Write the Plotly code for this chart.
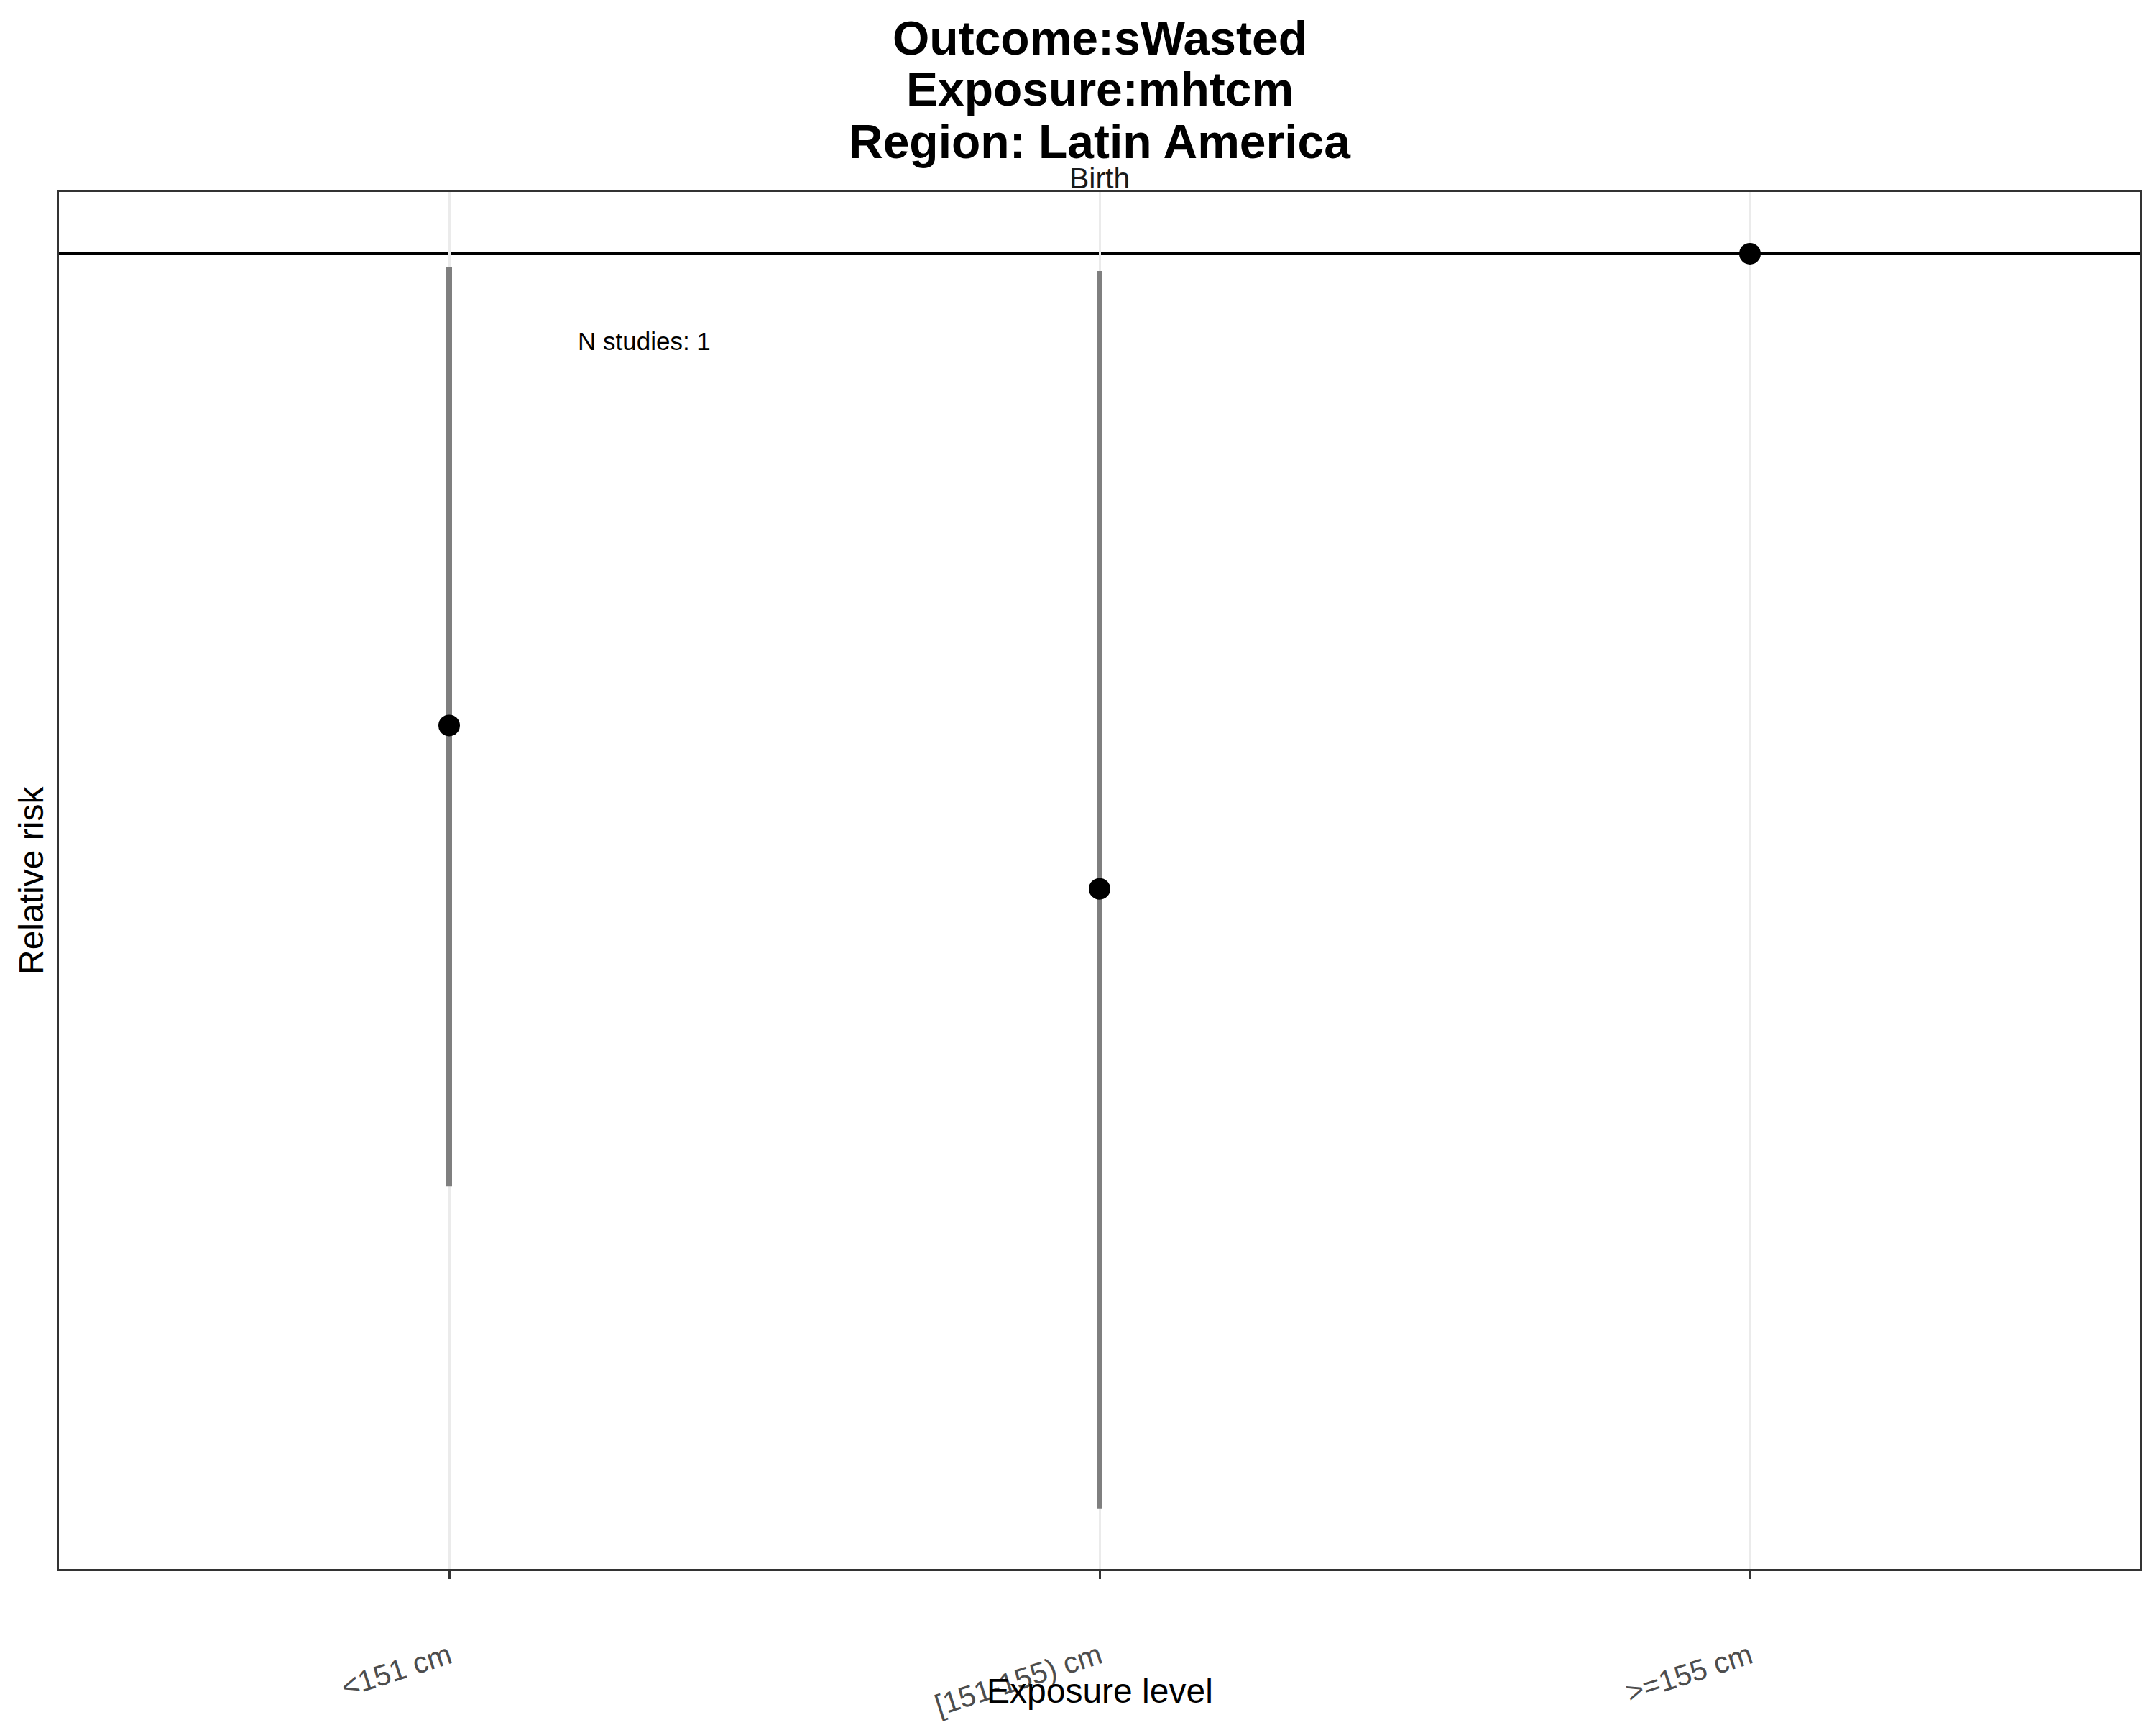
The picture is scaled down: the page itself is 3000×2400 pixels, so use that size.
import math
import plotly.graph_objects as go

# ---- data ----
categories = ["<151 cm", "[151-155) cm", ">=155 cm"]
rr_point = [0.96115, 0.94806, 1.0]
rr_lower = [0.92469, 0.9000, None]
rr_upper = [0.99891, 0.99855, None]
y_range = [0.89543, 1.0052]
ref_value = 1.0
n_studies_label = "N studies: 1"
n_studies_pos = (0.3, 0.99272)

title_lines = ["Outcome:sWasted", "Exposure:mhtcm", "Region: Latin America"]
facet_label = "Birth"
x_title = "Exposure level"
y_title = "Relative risk"

# ---- layout geometry (pixels) ----
W, H = 3000, 2400
L, R, T, B = 82, 22, 267, 217
PW, PH = W - L - R, H - T - B


def px_x(px):
    return (px - L) / PW


def px_y(py):
    return (H - B - py) / PH


err_plus = [(u - p) if u is not None else float("nan") for u, p in zip(rr_upper, rr_point)]
err_minus = [(p - lo) if lo is not None else float("nan") for lo, p in zip(rr_lower, rr_point)]

FONT = "Liberation Sans, Arial, sans-serif"

fig = go.Figure()
fig.add_trace(go.Scatter(
    x=categories, y=rr_point, mode="markers",
    marker=dict(size=30, color="black", line=dict(width=0)),
    error_y=dict(type="data", symmetric=False, array=err_plus, arrayminus=err_minus,
                 color="#7f7f7f", thickness=8, width=0),
    showlegend=False, hoverinfo="skip",
))

fig.add_shape(type="line", xref="paper", yref="y", x0=0, x1=1, y0=ref_value, y1=ref_value,
              line=dict(color="black", width=4), layer="below")

annotations = []
for txt, yc in zip(title_lines, [53, 124, 197]):
    annotations.append(dict(text="<b>%s</b>" % txt, xref="paper", yref="paper",
                            x=0.5, y=px_y(yc), xanchor="center", yanchor="middle",
                            showarrow=False, font=dict(family=FONT, size=66, color="black")))
annotations.append(dict(text=facet_label, xref="paper", yref="paper", x=0.5, y=px_y(248),
                        xanchor="center", yanchor="middle", showarrow=False,
                        font=dict(family=FONT, size=41, color="#1a1a1a")))
annotations.append(dict(text=x_title, xref="paper", yref="paper", x=0.5, y=px_y(2352),
                        xanchor="center", yanchor="middle", showarrow=False,
                        font=dict(family=FONT, size=48, color="black")))
annotations.append(dict(text=y_title, xref="paper", yref="paper", x=px_x(43), y=0.5,
                        xanchor="center", yanchor="middle", textangle=-90, showarrow=False,
                        font=dict(family=FONT, size=48, color="black")))
annotations.append(dict(text=n_studies_label, xref="x", yref="y", x=n_studies_pos[0],
                        y=math.log10(n_studies_pos[1]), xanchor="center", yanchor="middle",
                        showarrow=False, font=dict(family=FONT, size=35, color="black")))

fig.update_layout(
    width=W, height=H,
    margin=dict(l=L, r=R, t=T, b=B, pad=0, autoexpand=False),
    paper_bgcolor="white", plot_bgcolor="white",
    annotations=annotations,
    font=dict(family=FONT),
    xaxis=dict(type="category", categoryorder="array", categoryarray=categories,
               range=[-0.6, 2.6], showgrid=True, gridcolor="#ebebeb", gridwidth=3,
               showline=True, mirror=True, linecolor="#333333", linewidth=2.5,
               ticks="outside", ticklen=11, tickwidth=2.5, tickcolor="#333333",
               tickangle=-18, ticklabelstandoff=68, automargin=False,
               tickfont=dict(family=FONT, size=41, color="#4d4d4d"), zeroline=False),
    yaxis=dict(type="log", range=[math.log10(y_range[0]), math.log10(y_range[1])],
               showgrid=False, showticklabels=False, ticks="", automargin=False,
               showline=True, mirror=True, linecolor="#333333", linewidth=2.5, zeroline=False),
)

fig.write_html("out.html")
